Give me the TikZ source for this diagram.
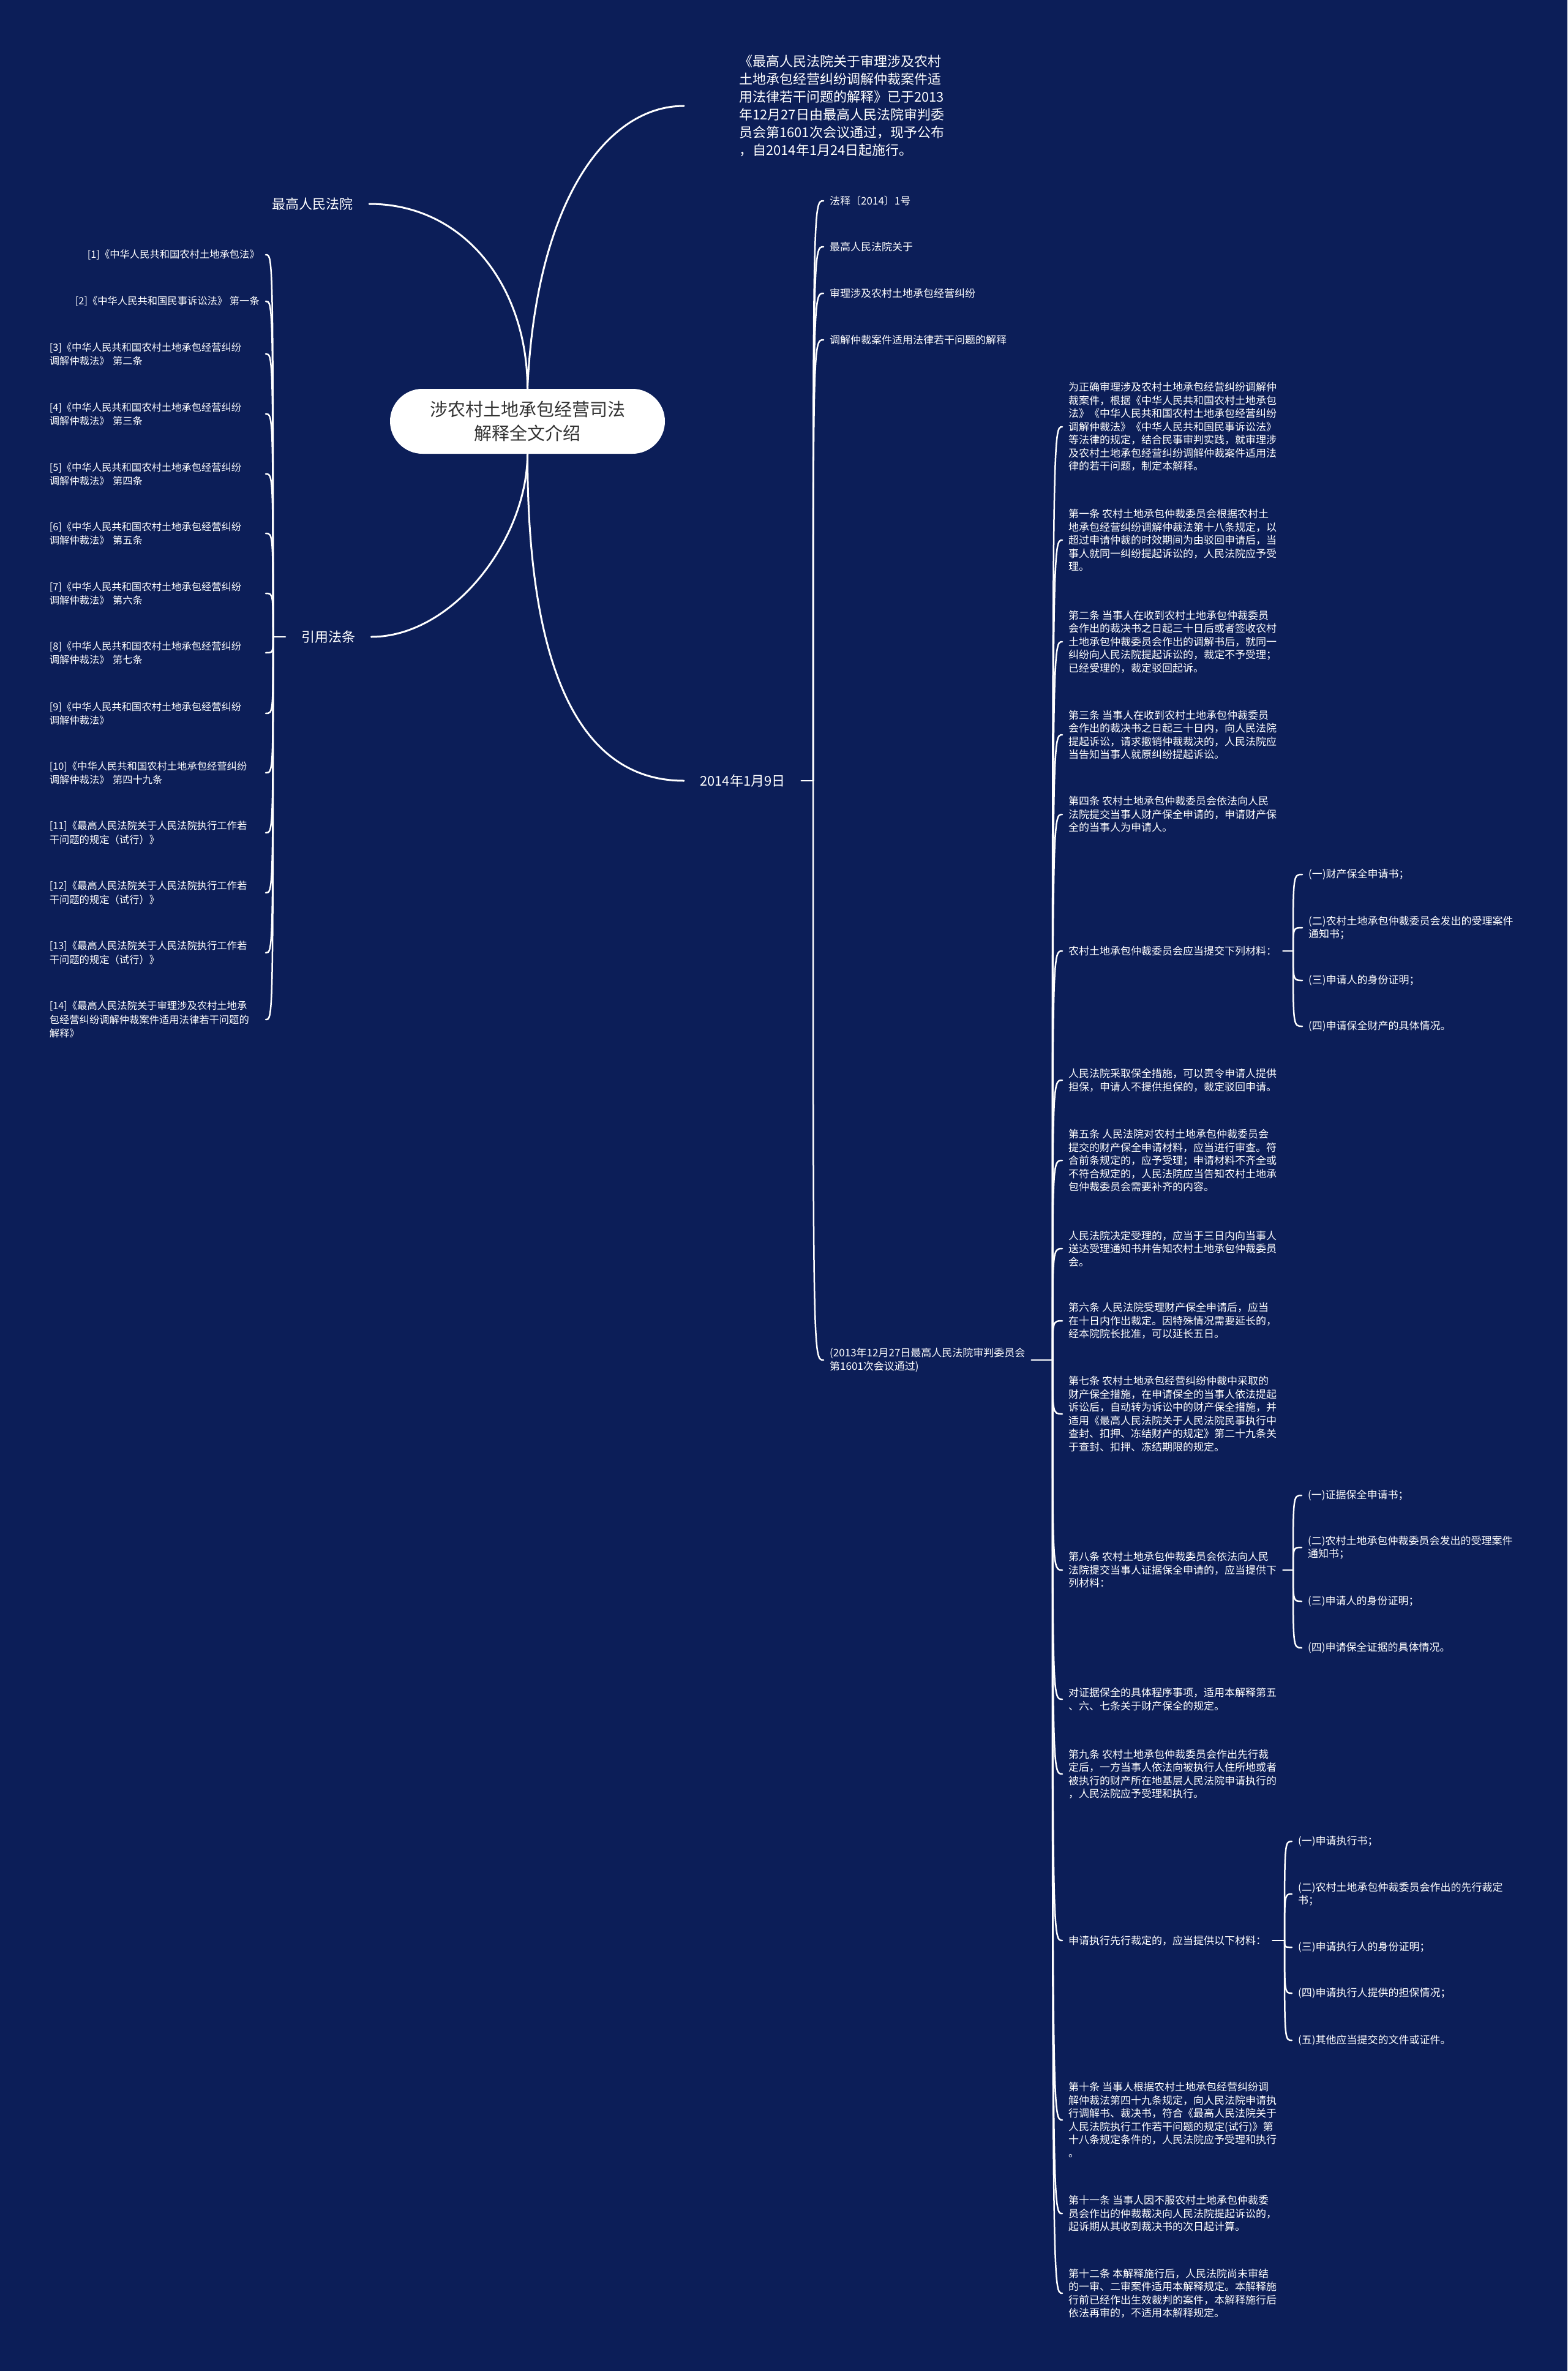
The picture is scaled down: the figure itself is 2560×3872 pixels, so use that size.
\documentclass[tikz,border=0pt]{standalone}
\usepackage{fontspec}
\setmainfont{Noto Sans CJK SC}
\definecolor{bgnavy}{RGB}{12,30,88}
\definecolor{roottext}{RGB}{51,51,51}
\newcommand{\hookto}[2]{\draw[conn] (#1) .. controls (#1 |- #2) and (#1 |- #2) .. (#2);}
\tikzset{
  conn/.style={draw=white, line width=2.5pt, line cap=round},
  conntop/.style={draw=white, line width=3pt, line cap=round},
  rootbox/.style={fill=white, rounded corners=53pt, minimum width=449pt, minimum height=106pt, align=center, text=roottext, font=\fontsize{29}{39}\selectfont, inner sep=0pt},
  lone/.style={text=white, font=\fontsize{22}{29}\selectfont, inner xsep=26pt, inner ysep=4pt},
  topblk/.style={text=white, font=\fontsize{22}{29}\selectfont, align=left, inner xsep=90pt, inner ysep=0pt},
  sm/.style={text=white, font=\fontsize{17}{21.5}\selectfont, align=left, inner xsep=10pt, inner ysep=0pt, anchor=west},
  lf/.style={text=white, font=\fontsize{16.3}{22.3}\selectfont, inner xsep=10pt, inner ysep=0pt, anchor=east},
  lfm/.style={lf, text width=343pt, align=left},
}
\begin{document}
\begin{tikzpicture}[x=1pt,y=-1pt]
\fill[bgnavy] (0,0) rectangle (2560,3872);
\useasboundingbox (0,0) rectangle (2560,3872);

% root and level 1
\node[rootbox] (root) at (861.5,688) {涉农村土地承包经营司法\\解释全文介绍};
\node[lone, anchor=east] (zg) at (603,333) {最高人民法院};
\node[lone, anchor=west] (yy) at (466,1040) {引用法条};
\node[lone, anchor=west] (d14) at (1117,1275) {2014年1月9日};
\node[topblk, anchor=west] (top) at (1117,173) {《最高人民法院关于审理涉及农村\\土地承包经营纠纷调解仲裁案件适\\用法律若干问题的解释》已于2013\\年12月27日由最高人民法院审判委\\员会第1601次会议通过，现予公布\\，自2014年1月24日起施行。};

\draw[conntop] (root.north) .. controls (861.5,470) and (760,333) .. (zg.east);
\draw[conntop] (root.north) .. controls (875,330) and (990,173) .. (top.west);
\draw[conntop] (root.south) .. controls (861.5,880) and (740,1040) .. (yy.east);
\draw[conntop] (root.south) .. controls (861.5,1100) and (950,1275) .. (d14.west);

% left list
\coordinate (yyS) at (446,1040);
\draw[conn] (yy.west) -- (yyS);
\node[lf] (L1) at (434,416) {[1]《中华人民共和国农村土地承包法》};
\node[lf] (L2) at (434,492) {[2]《中华人民共和国民事诉讼法》 第一条};
\node[lfm] (L3) at (434,578) {[3]《中华人民共和国农村土地承包经营纠纷\\调解仲裁法》 第二条};
\node[lfm] (L4) at (434,676) {[4]《中华人民共和国农村土地承包经营纠纷\\调解仲裁法》 第三条};
\node[lfm] (L5) at (434,774) {[5]《中华人民共和国农村土地承包经营纠纷\\调解仲裁法》 第四条};
\node[lfm] (L6) at (434,871) {[6]《中华人民共和国农村土地承包经营纠纷\\调解仲裁法》 第五条};
\node[lfm] (L7) at (434,969) {[7]《中华人民共和国农村土地承包经营纠纷\\调解仲裁法》 第六条};
\node[lfm] (L8) at (434,1066) {[8]《中华人民共和国农村土地承包经营纠纷\\调解仲裁法》 第七条};
\node[lfm] (L9) at (434,1165) {[9]《中华人民共和国农村土地承包经营纠纷\\调解仲裁法》};
\node[lfm] (L10) at (434,1262) {[10]《中华人民共和国农村土地承包经营纠纷\\调解仲裁法》 第四十九条};
\node[lfm] (L11) at (434,1360) {[11]《最高人民法院关于人民法院执行工作若\\干问题的规定（试行）》};
\node[lfm] (L12) at (434,1458) {[12]《最高人民法院关于人民法院执行工作若\\干问题的规定（试行）》};
\node[lfm] (L13) at (434,1556) {[13]《最高人民法院关于人民法院执行工作若\\干问题的规定（试行）》};
\node[lfm] (L14) at (434,1665) {[14]《最高人民法院关于审理涉及农村土地承\\包经营纠纷调解仲裁案件适用法律若干问题的\\解释》};
\foreach \n in {L1,L2,L3,L4,L5,L6,L7,L8,L9,L10,L11,L12,L13,L14} {\hookto{yyS}{\n.east}}

% right level 2
\coordinate (d14S) at (1328,1275);
\draw[conn] (d14.east) -- (d14S);
\node[sm] (r1) at (1345,328) {法释〔2014〕1号};
\node[sm] (r2) at (1345,403) {最高人民法院关于};
\node[sm] (r3) at (1345,479) {审理涉及农村土地承包经营纠纷};
\node[sm] (r4) at (1345,555) {调解仲裁案件适用法律若干问题的解释};
\node[sm] (n13) at (1345,2221) {(2013年12月27日最高人民法院审判委员会\\第1601次会议通过)};
\foreach \n in {r1,r2,r3,r4,n13} {\hookto{d14S}{\n.west}}

% articles
\coordinate (n13S) at (1719,2221);
\draw[conn] (n13.east) -- (n13S);
\node[sm] (a0) at (1735,697) {为正确审理涉及农村土地承包经营纠纷调解仲\\裁案件，根据《中华人民共和国农村土地承包\\法》《中华人民共和国农村土地承包经营纠纷\\调解仲裁法》《中华人民共和国民事诉讼法》\\等法律的规定，结合民事审判实践，就审理涉\\及农村土地承包经营纠纷调解仲裁案件适用法\\律的若干问题，制定本解释。};
\node[sm] (a1) at (1735,882) {第一条 农村土地承包仲裁委员会根据农村土\\地承包经营纠纷调解仲裁法第十八条规定，以\\超过申请仲裁的时效期间为由驳回申请后，当\\事人就同一纠纷提起诉讼的，人民法院应予受\\理。};
\node[sm] (a2) at (1735,1048) {第二条 当事人在收到农村土地承包仲裁委员\\会作出的裁决书之日起三十日后或者签收农村\\土地承包仲裁委员会作出的调解书后，就同一\\纠纷向人民法院提起诉讼的，裁定不予受理；\\已经受理的，裁定驳回起诉。};
\node[sm] (a3) at (1735,1200) {第三条 当事人在收到农村土地承包仲裁委员\\会作出的裁决书之日起三十日内，向人民法院\\提起诉讼，请求撤销仲裁裁决的，人民法院应\\当告知当事人就原纠纷提起诉讼。};
\node[sm] (a4) at (1735,1330) {第四条 农村土地承包仲裁委员会依法向人民\\法院提交当事人财产保全申请的，申请财产保\\全的当事人为申请人。};
\node[sm] (a5) at (1735,1553) {农村土地承包仲裁委员会应当提交下列材料：};
\node[sm] (a6) at (1735,1764) {人民法院采取保全措施，可以责令申请人提供\\担保，申请人不提供担保的，裁定驳回申请。};
\node[sm] (a7) at (1735,1895) {第五条 人民法院对农村土地承包仲裁委员会\\提交的财产保全申请材料，应当进行审查。符\\合前条规定的，应予受理；申请材料不齐全或\\不符合规定的，人民法院应当告知农村土地承\\包仲裁委员会需要补齐的内容。};
\node[sm] (a8) at (1735,2039) {人民法院决定受理的，应当于三日内向当事人\\送达受理通知书并告知农村土地承包仲裁委员\\会。};
\node[sm] (a9) at (1735,2157) {第六条 人民法院受理财产保全申请后，应当\\在十日内作出裁定。因特殊情况需要延长的，\\经本院院长批准，可以延长五日。};
\node[sm] (a10) at (1735,2309) {第七条 农村土地承包经营纠纷仲裁中采取的\\财产保全措施，在申请保全的当事人依法提起\\诉讼后，自动转为诉讼中的财产保全措施，并\\适用《最高人民法院关于人民法院民事执行中\\查封、扣押、冻结财产的规定》第二十九条关\\于查封、扣押、冻结期限的规定。};
\node[sm] (a11) at (1735,2564) {第八条 农村土地承包仲裁委员会依法向人民\\法院提交当事人证据保全申请的，应当提供下\\列材料：};
\node[sm] (a12) at (1735,2775) {对证据保全的具体程序事项，适用本解释第五\\、六、七条关于财产保全的规定。};
\node[sm] (a13) at (1735,2897) {第九条 农村土地承包仲裁委员会作出先行裁\\定后，一方当事人依法向被执行人住所地或者\\被执行的财产所在地基层人民法院申请执行的\\，人民法院应予受理和执行。};
\node[sm] (a14) at (1735,3169) {申请执行先行裁定的，应当提供以下材料：};
\node[sm] (a15) at (1735,3462) {第十条 当事人根据农村土地承包经营纠纷调\\解仲裁法第四十九条规定，向人民法院申请执\\行调解书、裁决书，符合《最高人民法院关于\\人民法院执行工作若干问题的规定(试行)》第\\十八条规定条件的，人民法院应予受理和执行\\。};
\node[sm] (a16) at (1735,3615) {第十一条 当事人因不服农村土地承包仲裁委\\员会作出的仲裁裁决向人民法院提起诉讼的，\\起诉期从其收到裁决书的次日起计算。};
\node[sm] (a17) at (1735,3745) {第十二条 本解释施行后，人民法院尚未审结\\的一审、二审案件适用本解释规定。本解释施\\行前已经作出生效裁判的案件，本解释施行后\\依法再审的，不适用本解释规定。};
\foreach \n in {a0,a1,a2,a3,a4,a5,a6,a7,a8,a9,a10,a11,a12,a13,a14,a15,a16,a17} {\hookto{n13S}{\n.west}}

% sub lists
\coordinate (aS) at (2112,1553);
\draw[conn] (a5.east) -- (aS);
\node[sm] (a5a) at (2127,1428) {(一)财产保全申请书；};
\node[sm] (a5b) at (2127,1515) {(二)农村土地承包仲裁委员会发出的受理案件\\通知书；};
\node[sm] (a5c) at (2127,1601) {(三)申请人的身份证明；};
\node[sm] (a5d) at (2127,1676) {(四)申请保全财产的具体情况。};
\foreach \n in {a5a,a5b,a5c,a5d} {\hookto{aS}{\n.west}}

\coordinate (bS) at (2112,2564);
\draw[conn] (a11.east) -- (bS);
\node[sm] (a11a) at (2126,2442) {(一)证据保全申请书；};
\node[sm] (a11b) at (2126,2527) {(二)农村土地承包仲裁委员会发出的受理案件\\通知书；};
\node[sm] (a11c) at (2126,2615) {(三)申请人的身份证明；};
\node[sm] (a11d) at (2126,2691) {(四)申请保全证据的具体情况。};
\foreach \n in {a11a,a11b,a11c,a11d} {\hookto{bS}{\n.west}}

\coordinate (cS) at (2098,3169);
\draw[conn] (a14.east) -- (cS);
\node[sm] (a14a) at (2110,3007) {(一)申请执行书；};
\node[sm] (a14b) at (2110,3093) {(二)农村土地承包仲裁委员会作出的先行裁定\\书；};
\node[sm] (a14c) at (2110,3180) {(三)申请执行人的身份证明；};
\node[sm] (a14d) at (2110,3255) {(四)申请执行人提供的担保情况；};
\node[sm] (a14e) at (2110,3332) {(五)其他应当提交的文件或证件。};
\foreach \n in {a14a,a14b,a14c,a14d,a14e} {\hookto{cS}{\n.west}}
\end{tikzpicture}
\end{document}
